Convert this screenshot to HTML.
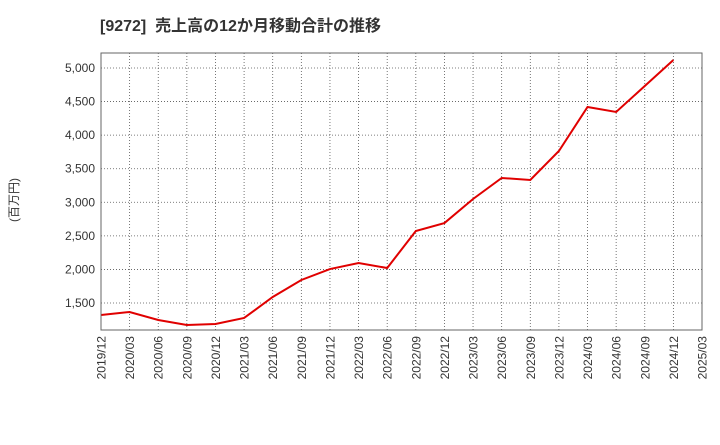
<!DOCTYPE html>
<html><head><meta charset="utf-8"><style>
body{margin:0;background:#fff;font-family:"Liberation Sans","Noto Sans CJK JP",sans-serif}
</style></head><body>
<svg width="720" height="440" xmlns="http://www.w3.org/2000/svg">
<text x="100" y="31" font-size="16" font-weight="bold" fill="#333" xml:space="preserve" font-family="Liberation Sans, Noto Sans CJK JP, sans-serif">[9272]  売上高の12か月移動合計の推移</text>
<text transform="translate(18,200) rotate(-90)" text-anchor="middle" font-size="12" fill="#333" font-family="Liberation Sans, Noto Sans CJK JP, sans-serif">(百万円)</text>
<g id="grid"></g><g id="axes"></g><g id="series"></g>
<rect x="101" y="53" width="601" height="277" fill="none" stroke="#666"/>
</svg>
<script>
const categories=["2019/12","2020/03","2020/06","2020/09","2020/12","2021/03","2021/06","2021/09","2021/12","2022/03","2022/06","2022/09","2022/12","2023/03","2023/06","2023/09","2023/12","2024/03","2024/06","2024/09","2024/12","2025/03"];
const values=[1321,1366,1247,1172,1187,1277,1590,1843,2006,2096,2021,2572,2691,3049,3362,3332,3764,4419,4345,4732,5119];
const yTicks=[1500,2000,2500,3000,3500,4000,4500,5000];
const yTickLabels=["1,500","2,000","2,500","3,000","3,500","4,000","4,500","5,000"];
const NS="http://www.w3.org/2000/svg";
const x=i=>101+i*(601/(categories.length-1));
const y=v=>303-(v-1500)*(235/3500);
const grid=document.getElementById('grid'),axes=document.getElementById('axes'),series=document.getElementById('series');
function mk(t,a,p){const e=document.createElementNS(NS,t);for(const k in a)e.setAttribute(k,a[k]);p.appendChild(e);return e;}
categories.forEach((c,i)=>{
 const l=mk('line',{x1:x(i),x2:x(i),y1:53,y2:330,stroke:'#555','stroke-dasharray':'1,2','stroke-width':0.8},grid);
 
 
 const t=mk('text',{transform:`translate(${x(i)+4.5},336) rotate(-90)`,'text-anchor':'end','font-size':12,fill:'#333'},axes);
 t.textContent=c;
 
 
});
yTicks.forEach((v,i)=>{
 const l=mk('line',{x1:101,x2:702,y1:y(v),y2:y(v),stroke:'#555','stroke-dasharray':'1,2','stroke-width':0.8},grid);
 
 
 const t=mk('text',{x:95,y:y(v)+4,'text-anchor':'end','font-size':12,fill:'#333'},axes);
 t.textContent=yTickLabels[i];
 
 
});
const p=mk('polyline',{points:values.map((v,i)=>x(i)+','+y(v)).join(' '),fill:'none',stroke:'#e00000','stroke-width':2},series);


</script>
</body></html>
